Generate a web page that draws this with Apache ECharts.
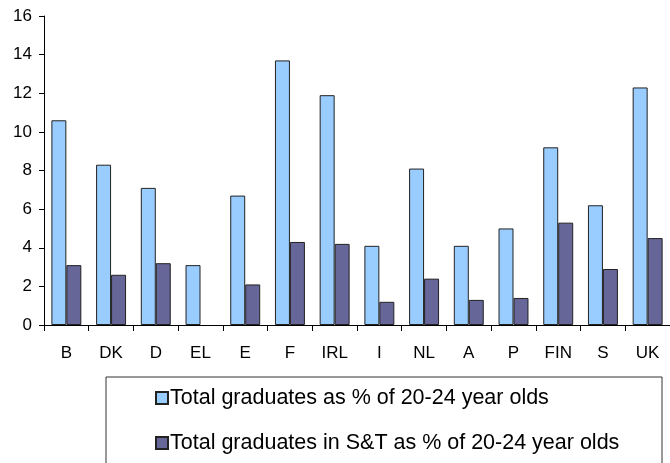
<!DOCTYPE html>
<html>
<head>
<meta charset="utf-8">
<script src="https://cdn.jsdelivr.net/npm/echarts@6/dist/echarts.min.js"></script>
<style>
  html, body { margin: 0; padding: 0; background: #fff; }
  #chart { width: 670px; height: 463px; }
</style>
</head>
<body>
<div id="chart"></div>
<script>
  // categories and values
  var countries = ['B', 'DK', 'D', 'EL', 'E', 'F', 'IRL', 'I', 'NL', 'A', 'P', 'FIN', 'S', 'UK']
  var totalGrad = [10.6, 8.3, 7.1, 3.1, 6.7, 13.7, 11.9, 4.1, 8.1, 4.1, 5.0, 9.2, 6.2, 12.3]
  var stGrad = [3.1, 2.6, 3.2, null, 2.1, 4.3, 4.2, 1.2, 2.4, 1.3, 1.4, 5.3, 2.9, 4.5]
  var seriesNames = [
    'Total graduates as % of 20-24 year olds',
    'Total graduates in S&T as % of 20-24 year olds'
  ]

  var font = 'Liberation Sans, Arial, sans-serif'
  var chart = echarts.init(document.getElementById('chart'))

  var option = {
    animation: false,
    textStyle: { fontFamily: font },
    grid: { left: 44, right: -4, top: 16, bottom: 138, containLabel: false },
    graphic: [
      {
        type: 'rect',
        shape: { x: 106, y: 377, width: 556, height: 100 },
        style: { fill: 'none', stroke: '#333', lineWidth: 1 },
        z: 0
      }
    ],
    legend: {
      orient: 'vertical',
      left: 150,
      top: 382,
      itemWidth: 12,
      itemHeight: 12,
      itemGap: 23,
      icon: 'rect',
      textStyle: { fontFamily: font, fontSize: 21.5, color: '#000', lineHeight: 22, padding: [0, 0, 0, -3] },
      data: seriesNames
    },
    xAxis: {
      type: 'category',
      data: countries,
      axisLine: { lineStyle: { color: '#000', width: 1 } },
      axisTick: { show: true, length: 6, lineStyle: { color: '#000' } },
      axisLabel: { color: '#000', fontSize: 17, margin: 20, fontFamily: font }
    },
    yAxis: {
      type: 'value',
      min: 0,
      max: 16,
      interval: 2,
      splitLine: { show: false },
      axisLine: { show: true, lineStyle: { color: '#000', width: 1 } },
      axisTick: { show: true, length: 5, lineStyle: { color: '#000' } },
      axisLabel: { color: '#000', fontSize: 17, margin: 12, fontFamily: font }
    },
    series: [
      {
        name: seriesNames[0],
        type: 'bar',
        data: totalGrad,
        barGap: '0%',
        barCategoryGap: '33%',
        itemStyle: { color: '#99CCFF', borderColor: '#222', borderWidth: 1 }
      },
      {
        name: seriesNames[1],
        type: 'bar',
        data: stGrad,
        itemStyle: { color: '#666699', borderColor: '#222', borderWidth: 1 }
      }
    ]
  }
  chart.setOption(option)
</script>
</body>
</html>
